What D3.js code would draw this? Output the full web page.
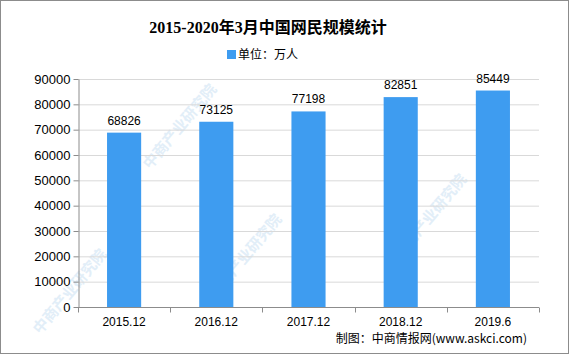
<!DOCTYPE html>
<html>
<head>
<meta charset="utf-8">
<script src="https://cdn.jsdelivr.net/npm/d3@7"></script>
<style>
  body { margin: 0; background: #fff; }
  svg { display: block; }
</style>
</head>
<body>
<svg id="chart"></svg>
<script>
const categories = ['2015.12', '2016.12', '2017.12', '2018.12', '2019.6'];
const users = [68826, 73125, 77198, 82851, 85449];
const yTicks = [0, 10000, 20000, 30000, 40000, 50000, 60000, 70000, 80000, 90000];

const width = 569, height = 354;
const margin = {top: 79, right: 30, bottom: 47, left: 78};
const innerW = width - margin.left - margin.right;
const innerH = height - margin.top - margin.bottom;

const svg = d3.select('#chart')
    .attr('width', width)
    .attr('height', height);

svg.append('rect')
    .attr('x', 0.5).attr('y', 0.5)
    .attr('width', width - 1).attr('height', height - 1)
    .attr('fill', '#fff')
    .attr('stroke', '#8c8c8c');

// faint watermark, kept inside the frame
const wm = svg.append('g').attr('fill', '#e2eef8').attr('font-family', "'Noto Sans CJK SC', sans-serif")
    .attr('font-size', 15).attr('font-weight', 'bold');
[[40, 335], [215, 300], [400, 260], [150, 170]].forEach(p => {
    wm.append('text')
        .attr('transform', `translate(${p[0]},${p[1]}) rotate(-50)`)
        .text('中商产业研究院');
});

svg.append('text')
    .attr('x', 268).attr('y', 33)
    .attr('text-anchor', 'middle')
    .attr('font-family', "'Liberation Serif', 'Noto Sans CJK SC', serif")
    .attr('font-weight', 'bold')
    .attr('font-size', 16)
    .attr('fill', '#000')
    .text('2015-2020年3月中国网民规模统计');

svg.append('rect')
    .attr('x', 227).attr('y', 50).attr('width', 9).attr('height', 9)
    .attr('fill', '#3e9cf0');
svg.append('text')
    .attr('x', 238).attr('y', 59)
    .attr('font-family', "'Noto Sans CJK SC', sans-serif")
    .attr('font-size', 12)
    .attr('fill', '#000')
    .text('单位：万人');

const chart = svg.append('g')
    .attr('transform', `translate(${margin.left},${margin.top})`);

const xScale = d3.scaleBand()
    .domain(categories)
    .range([0, innerW])
    .paddingInner(0.63)
    .paddingOuter(0.315);

const yScale = d3.scaleLinear()
    .domain([0, 90000])
    .range([innerH, 0]);

chart.append('g')
    .selectAll('line')
    .data(yTicks.slice(1))
    .join('line')
    .attr('x1', 0).attr('x2', innerW)
    .attr('y1', d => yScale(d) + 0.5).attr('y2', d => yScale(d) + 0.5)
    .attr('stroke', '#d9d9d9');

chart.selectAll('.bar')
    .data(users)
    .join('rect')
    .attr('class', 'bar')
    .attr('x', (d, i) => xScale(categories[i]))
    .attr('width', xScale.bandwidth())
    .attr('y', d => yScale(d))
    .attr('height', d => innerH - yScale(d))
    .attr('fill', '#3e9cf0');

chart.selectAll('.val')
    .data(users)
    .join('text')
    .attr('class', 'val')
    .attr('x', (d, i) => xScale(categories[i]) + xScale.bandwidth() / 2)
    .attr('y', d => yScale(d) - 8)
    .attr('text-anchor', 'middle')
    .attr('font-family', "'Liberation Sans', Arial, sans-serif")
    .attr('font-size', 12)
    .attr('fill', '#000')
    .text(d => d);

const yAxis = d3.axisLeft(yScale)
    .tickValues(yTicks)
    .tickSize(5)
    .tickSizeOuter(0)
    .tickPadding(3)
    .tickFormat(d => d);

const yAxisGroup = chart.append('g')
    .attr('transform', 'translate(0.5,0)')
    .call(yAxis);
yAxisGroup.selectAll('line, path').attr('stroke', '#8c8c8c');
yAxisGroup.selectAll('text')
    .attr('font-family', "'Liberation Sans', Arial, sans-serif")
    .attr('font-size', 13)
    .attr('fill', '#000');

// x axis: ticks at category boundaries
const step = xScale.step();
const xAxisGroup = chart.append('g')
    .attr('transform', `translate(0,${innerH + 0.5})`);
xAxisGroup.append('line')
    .attr('x1', 0).attr('x2', innerW)
    .attr('stroke', '#8c8c8c');
xAxisGroup.selectAll('.tk')
    .data(d3.range(categories.length + 1))
    .join('line')
    .attr('class', 'tk')
    .attr('x1', i => Math.round(i * step) + 0.5).attr('x2', i => Math.round(i * step) + 0.5)
    .attr('y1', 0).attr('y2', 5)
    .attr('stroke', '#8c8c8c');
xAxisGroup.selectAll('.lbl')
    .data(categories)
    .join('text')
    .attr('class', 'lbl')
    .attr('x', d => xScale(d) + xScale.bandwidth() / 2)
    .attr('y', 18)
    .attr('text-anchor', 'middle')
    .attr('font-family', "'Liberation Sans', Arial, sans-serif")
    .attr('font-size', 12)
    .attr('fill', '#000')
    .text(d => d);

svg.append('text')
    .attr('x', 527).attr('y', 343)
    .attr('text-anchor', 'end')
    .attr('font-family', "'Noto Sans CJK SC', sans-serif")
    .attr('font-size', 12)
    .attr('fill', '#000')
    .text('制图：中商情报网(www.askci.com)');
</script>
</body>
</html>
